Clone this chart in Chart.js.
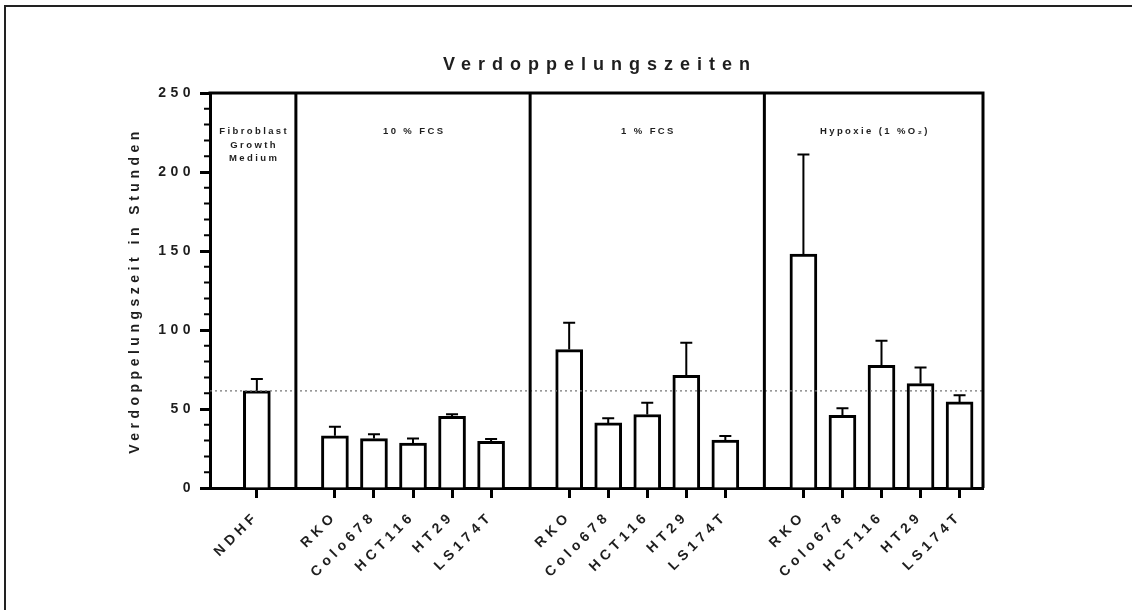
<!DOCTYPE html>
<html lang="de">

<head>
  <meta charset="UTF-8">
  <title>Verdoppelungszeiten</title>
  <style>
    html,
    body {
      margin: 0;
      padding: 0;
      background: #fff;
    }

    .chart-box {
      position: relative;
      width: 1132px;
      height: 610px;
    }

    .page-frame {
      position: absolute;
      left: 4px;
      top: 5px;
      right: -10px;
      bottom: -10px;
      border-left: 2px solid #222;
      border-top: 2px solid #222;
      pointer-events: none;
    }
  </style>
</head>

<body>
  <div class="chart-box">
    <canvas id="doublingChart"></canvas>
    <div class="page-frame"></div>
  </div>

  <script src="https://cdn.jsdelivr.net/npm/chart.js"></script>
  <script>
    // Versuchsbedingungen (Abschnitte) und Zelllinien
    const groupTitles = [
      ['Fibroblast', 'Growth', 'Medium'],
      ['10 % FCS'],
      ['1 % FCS'],
      ['Hypoxie (1 %O\u2082)']
    ];
    const cellLines = [
      ['NDHF'],
      ['RKO', 'Colo678', 'HCT116', 'HT29', 'LS174T'],
      ['RKO', 'Colo678', 'HCT116', 'HT29', 'LS174T'],
      ['RKO', 'Colo678', 'HCT116', 'HT29', 'LS174T']
    ];
    // Mittelwerte der Verdoppelungszeit (h)
    const meanHours = [
      [61.5],
      [33, 31.3, 28.5, 45.4, 29.6],
      [87.6, 41.2, 46.5, 71.3, 30.4],
      [148, 46, 77.7, 66.1, 54.5]
    ];
    // obere Fehlerbalken (SD)
    const sdHours = [
      [7.5],
      [5.8, 2.7, 2.9, 1.2, 1.4],
      [17, 2.9, 7.5, 20.7, 2.5],
      [63, 4.4, 15.5, 10.1, 4.2]
    ];
    const referenceHours = meanHours[0][0]; // gepunktete Linie = NDHF
    const yMin = 0, yMax = 250, yMajorStep = 50, yMinorStep = 10;

    // flache Listen fuer die Balken bauen, mit einer Luecke zwischen den Gruppen
    const barPoints = [];
    const barErrors = [];
    const tickNames = {};
    const dividerPos = [];
    let pos = 0;
    cellLines.forEach((names, g) => {
      if (g > 0) {
        dividerPos.push(pos);
        pos += 1;
      }
      names.forEach((name, i) => {
        barPoints.push({ x: pos, y: meanHours[g][i] });
        barErrors.push(sdHours[g][i]);
        tickNames[pos] = name;
        pos += 1;
      });
    });
    const xMin = -1.2;
    const xMax = pos - 1 + 0.6;

    const textColor = '#1e1e1e';
    const fontFamily = "'Liberation Sans', Arial, sans-serif";

    // Sperrschrift wie im Original (wird nach jedem Canvas-Reset neu gesetzt)
    const spacingPlugin = {
      id: 'spacing',
      beforeLayout(chart) { chart.ctx.letterSpacing = '4.5px'; },
      beforeDraw(chart) { chart.ctx.letterSpacing = '4.5px'; }
    };

    const decorPlugin = {
      id: 'decor',
      afterDatasetsDraw(chart) {
        const ctx = chart.ctx;
        const area = chart.chartArea;
        const xs = chart.scales.x;
        const ys = chart.scales.y;
        ctx.save();

        // gepunktete Referenzlinie
        ctx.strokeStyle = '#777';
        ctx.lineWidth = 1.2;
        ctx.setLineDash([2, 3]);
        ctx.beginPath();
        ctx.moveTo(area.left, ys.getPixelForValue(referenceHours));
        ctx.lineTo(area.right, ys.getPixelForValue(referenceHours));
        ctx.stroke();
        ctx.setLineDash([]);

        // Fehlerbalken nach oben
        ctx.strokeStyle = '#000';
        ctx.lineWidth = 2;
        barPoints.forEach((p, i) => {
          const x = xs.getPixelForValue(p.x);
          const y0 = ys.getPixelForValue(p.y);
          const y1 = ys.getPixelForValue(p.y + barErrors[i]);
          ctx.beginPath();
          ctx.moveTo(x, y0);
          ctx.lineTo(x, y1);
          ctx.moveTo(x - 6, y1);
          ctx.lineTo(x + 6, y1);
          ctx.stroke();
        });

        // Rahmen oben/rechts und Trennlinien
        ctx.lineWidth = 3;
        ctx.beginPath();
        ctx.moveTo(area.left - 1.5, area.top);
        ctx.lineTo(area.right, area.top);
        ctx.lineTo(area.right, area.bottom);
        dividerPos.forEach(d => {
          const x = xs.getPixelForValue(d);
          ctx.moveTo(x, area.top);
          ctx.lineTo(x, area.bottom);
        });
        ctx.stroke();

        // kleine Teilstriche der y-Achse
        ctx.lineWidth = 2;
        ctx.beginPath();
        for (let v = yMin; v <= yMax; v += yMinorStep) {
          if (v % yMajorStep === 0) continue;
          const y = ys.getPixelForValue(v);
          ctx.moveTo(area.left - 6, y);
          ctx.lineTo(area.left, y);
        }
        ctx.stroke();

        // Abschnittstitel
        const bounds = [xMin].concat(dividerPos, [xMax]);
        ctx.fillStyle = textColor;
        ctx.font = 'bold 9.5px ' + fontFamily;
        ctx.letterSpacing = '2.4px';
        ctx.textAlign = 'center';
        ctx.textBaseline = 'middle';
        groupTitles.forEach((lines, g) => {
          const cx = (xs.getPixelForValue(bounds[g]) + xs.getPixelForValue(bounds[g + 1])) / 2 + 1.2;
          lines.forEach((line, k) => {
            ctx.fillText(line, cx, area.top + 38.5 + k * 13.6);
          });
        });

        // Diagrammtitel
        ctx.font = 'bold 18px ' + fontFamily;
        ctx.letterSpacing = '7px';
        ctx.fillText('Verdoppelungszeiten', (area.left + area.right) / 2 + 3.5, 65);
        ctx.restore();
      }
    };

    const ctx = document.getElementById('doublingChart').getContext('2d');
    new Chart(ctx, {
      type: 'bar',
      data: {
        datasets: [{
          label: 'Verdoppelungszeit',
          data: barPoints,
          backgroundColor: '#fff',
          borderColor: '#000',
          borderWidth: 3,
          borderSkipped: 'start',
          barThickness: 27
        }]
      },
      options: {
        responsive: true,
        maintainAspectRatio: false,
        animation: false,
        layout: {
          padding: { top: 93, right: 149, bottom: 0, left: 0 }
        },
        plugins: {
          legend: { display: false },
          tooltip: { enabled: false },
          title: { display: false }
        },
        scales: {
          x: {
            type: 'linear',
            min: xMin,
            max: xMax,
            offset: false,
            afterBuildTicks(scale) {
              scale.ticks = barPoints.map(p => ({ value: p.x }));
            },
            afterFit(scale) {
              scale.height = 122;
            },
            grid: {
              display: true,
              offset: false,
              drawOnChartArea: false,
              tickLength: 10,
              tickWidth: 3,
              color: '#000'
            },
            border: { display: true, width: 3, color: '#000' },
            ticks: {
              autoSkip: false,
              maxRotation: 45,
              minRotation: 45,
              padding: 10,
              color: textColor,
              font: { family: fontFamily, size: 14, weight: 'bold' },
              callback: (value) => tickNames[value] || ''
            }
          },
          y: {
            min: yMin,
            max: yMax,
            afterFit(scale) {
              scale.width = 210;
            },
            grid: {
              display: true,
              drawOnChartArea: false,
              tickLength: 10,
              tickWidth: 3,
              color: '#000'
            },
            border: { display: true, width: 3, color: '#000' },
            ticks: {
              stepSize: yMajorStep,
              padding: 5,
              color: textColor,
              font: { family: fontFamily, size: 14, weight: 'bold' }
            },
            title: {
              display: true,
              text: 'Verdoppelungszeit in Stunden',
              color: textColor,
              font: { family: fontFamily, size: 14, weight: 'bold' },
              padding: { top: 126.6, bottom: 0 }
            }
          }
        }
      },
      plugins: [spacingPlugin, decorPlugin]
    });
  </script>
</body>

</html>
